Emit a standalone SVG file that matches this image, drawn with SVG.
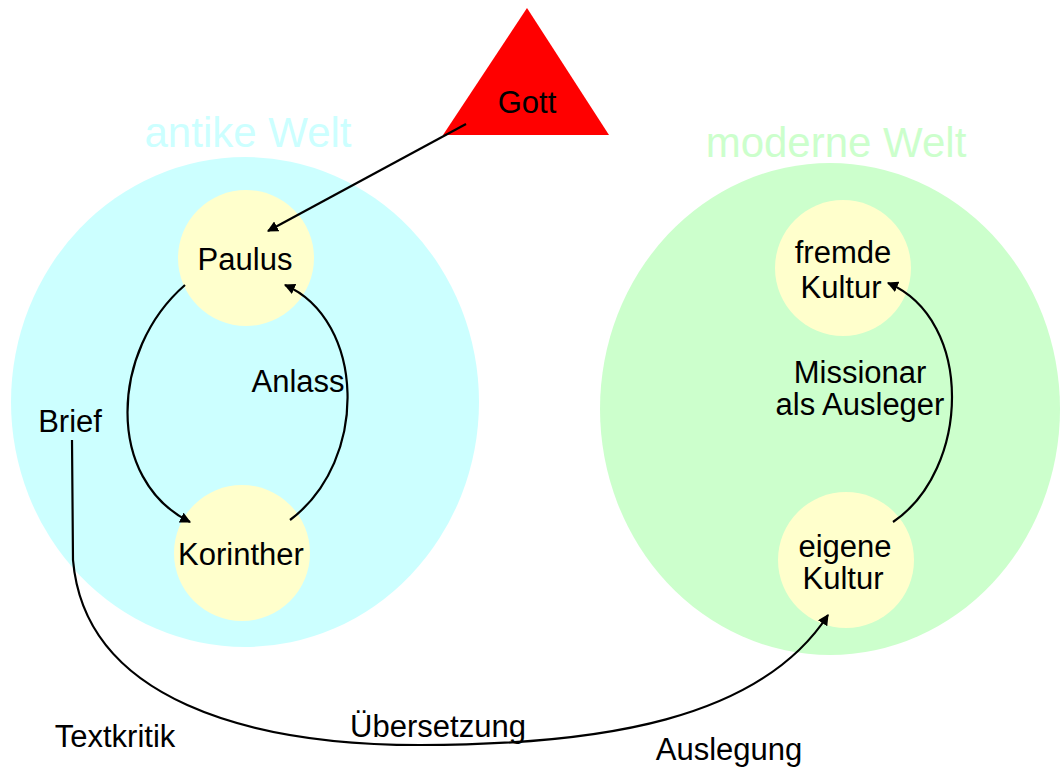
<svg xmlns="http://www.w3.org/2000/svg" width="1060" height="769" viewBox="0 0 1060 769">
<defs>
<style>
text{font-family:"Liberation Sans",Arial,sans-serif;fill:#000;text-anchor:middle}
.lbl{font-size:31px}
.head{font-size:42px}
.conn{fill:none;stroke:#000;stroke-width:2.2;marker-end:url(#ah)}
.small{fill:#ffffcc}
</style>
<marker id="ah" viewBox="0 0 10 10" refX="9" refY="5" markerWidth="5" markerHeight="5" orient="auto" markerUnits="strokeWidth">
<path d="M0,0 L10,5 L0,10 z" fill="#000"/>
</marker>
</defs>
<rect width="1060" height="769" fill="#fff"/>
<g id="antike-welt">
<ellipse cx="245" cy="402" rx="234" ry="245" fill="#ccffff"/>
<text class="head" x="248" y="147" fill="#ccffff" style="fill:#ccffff">antike Welt</text>
</g>
<g id="moderne-welt">
<ellipse cx="830" cy="409" rx="230" ry="246" fill="#ccffcc"/>
<text class="head" x="836" y="157" style="fill:#ccffcc">moderne Welt</text>
</g>
<g id="gott">
<polygon points="527,8 443,135 609,135" fill="#ff0000"/>
<text class="lbl" x="527" y="113">Gott</text>
</g>
<g id="paulus">
<circle class="small" cx="246" cy="258" r="68"/>
<text class="lbl" x="245" y="270">Paulus</text>
</g>
<g id="korinther">
<circle class="small" cx="242" cy="553" r="68"/>
<text class="lbl" x="241" y="565">Korinther</text>
</g>
<g id="fremde-kultur">
<circle class="small" cx="843" cy="268" r="68"/>
<text class="lbl" x="843" y="263">fremde</text>
<text class="lbl" x="841" y="298">Kultur</text>
</g>
<g id="eigene-kultur">
<circle class="small" cx="846" cy="560" r="68"/>
<text class="lbl" x="845" y="557">eigene</text>
<text class="lbl" x="843" y="589">Kultur</text>
</g>
<g id="connectors">
<path class="conn" d="M466,124 L268,231"/>
<path class="conn" d="M185,285 C110,350 105,480 190,522"/>
<path class="conn" d="M290,520 C370,460 365,320 285,285"/>
<path class="conn" d="M72,440 L73,560 C85,700 250,745 420,745 C600,745 760,720 828,615"/>
<path class="conn" d="M893,522 C970,470 975,320 888,283"/>
</g>
<g id="labels">
<text class="lbl" x="298" y="392">Anlass</text>
<text class="lbl" x="70" y="432">Brief</text>
<text class="lbl" x="860" y="383">Missionar</text>
<text class="lbl" x="860" y="415">als Ausleger</text>
<text class="lbl" x="115" y="747">Textkritik</text>
<text class="lbl" x="438" y="737">Übersetzung</text>
<text class="lbl" x="729" y="760">Auslegung</text>
</g>
</svg>
